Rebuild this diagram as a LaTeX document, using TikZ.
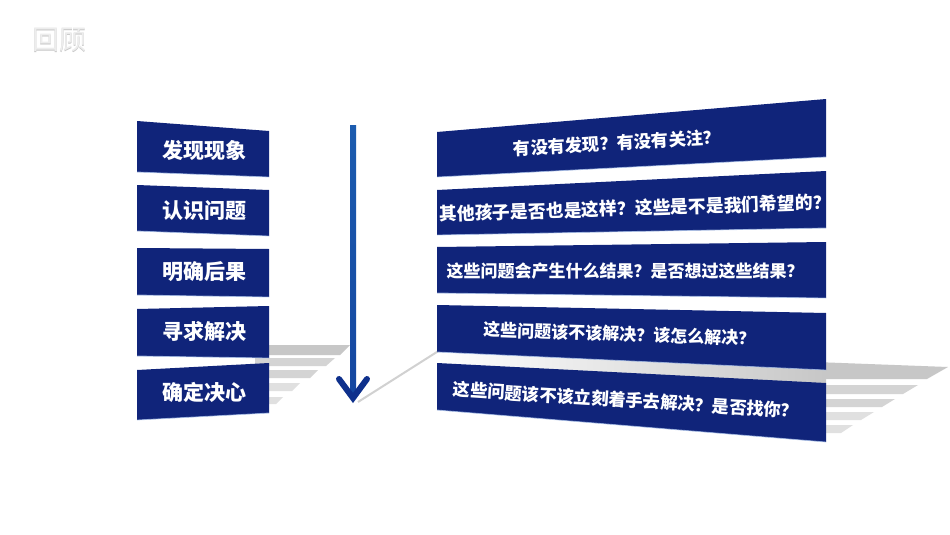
\documentclass[tikz,border=0pt]{standalone}
\usepackage{fontspec}
\newfontfamily\cjk{Noto Sans CJK SC}
\usetikzlibrary{calc}
\definecolor{navy}{RGB}{16,36,122}
\definecolor{shafttop}{RGB}{28,92,175}
\definecolor{shaftbot}{RGB}{20,70,160}
\definecolor{chev}{RGB}{14,48,140}
\definecolor{glow}{RGB}{170,195,235}
\tikzset{
  boxfill/.style={fill=navy},
  boxedge/.style={draw=glow, line width=0.8, opacity=0.7},
  ltext/.style={text=white, inner sep=0, font=\cjk\bfseries\fontsize{21}{21}\selectfont},
  rtext/.style={text=white, inner sep=0, font=\cjk\bfseries\fontsize{#1}{#1}\selectfont},
  rtext/.default=17,
  shadowA/.style={fill=black!22},
  shadowB/.style={fill=black!17},
  shadowC/.style={fill=black!12},
  chevron/.style={draw=chev, line width=6, line cap=round, line join=miter},
}
\begin{document}
\begin{tikzpicture}[x=1pt,y=-1pt]
\useasboundingbox[fill=white] (0,0) rectangle (950,535);

% title
\node[text=gray!45, inner sep=0, font=\cjk\fontsize{27}{27}\selectfont] (titleshadow) at (59.8,40.8) {回顾};
\node[text=gray!14, inner sep=0, font=\cjk\fontsize{27}{27}\selectfont] (title) at (59,40) {回顾};

% left reflection stripes
\fill[shadowA] (255,345) -- (350,345) -- (340,355) -- (255,355) -- cycle;
\fill[shadowB] (255,358) -- (335,358) -- (326,366) -- (255,366) -- cycle;
\fill[shadowB] (255,370) -- (318,370) -- (310,378) -- (255,378) -- cycle;
\fill[shadowC] (255,383) -- (300,383) -- (292,391) -- (255,391) -- cycle;
\fill[shadowC] (255,397) -- (283,397) -- (276,404) -- (255,404) -- cycle;

% right reflection stripes
\fill[shadowA] (815,362) -- (948,367) -- (927,379) -- (815,379) -- cycle;
\fill[shadowB] (815,385) -- (918,385) -- (903,394) -- (815,394) -- cycle;
\fill[shadowB] (815,399) -- (895,399) -- (882,407) -- (815,407) -- cycle;
\fill[shadowC] (815,412) -- (874,412) -- (861,420) -- (815,420) -- cycle;
\fill[shadowC] (815,425) -- (853,425) -- (841,433) -- (815,433) -- cycle;
% band behind the gap between R4 and R5
\shade[left color=white, right color=black!22] (437,350) -- (826,367) -- (826,385) -- (437,364) -- cycle;
% faint diagonal from the arrow tip
\coordinate (diagA) at (358,402);
\coordinate (diagB) at (440,350);
\draw[black!18, line width=2] (diagA) -- (diagB);

% left boxes
\fill[boxfill] (137,121) -- (269,131) -- (269,177) -- (137,172) -- cycle;
\fill[boxfill] (137,185) -- (269,190) -- (269,236) -- (137,231) -- cycle;
\fill[boxfill] (137,248) -- (269,249) -- (269,297) -- (137,295) -- cycle;
\fill[boxfill] (137,309) -- (269,306) -- (269,358) -- (137,356) -- cycle;
\fill[boxfill] (137,370) -- (269,363) -- (269,413) -- (137,420) -- cycle;
\draw[boxedge] (137,172) -- (269,177);
\draw[boxedge] (137,231) -- (269,236);
\draw[boxedge] (137,295) -- (269,297);
\draw[boxedge] (137,356) -- (269,358);
\draw[boxedge] (137,420) -- (269,413);

\node[ltext] (l1) at (204,150) {发现现象};
\node[ltext] (l2) at (204,211) {认识问题};
\node[ltext] (l3) at (204,272) {明确后果};
\node[ltext] (l4) at (204,331) {寻求解决};
\node[ltext] (l5) at (204,392) {确定决心};

% arrow
\coordinate (atop) at (353,125);
\coordinate (abot) at (353,398);
\shade[top color=shafttop, bottom color=shaftbot] ($(atop)+(-3,0)$) rectangle ($(abot)+(3,0)$);
\coordinate (cl) at (339,379);
\coordinate (cr) at (367,379);
\draw[chevron] (cl) -- (abot) -- (cr);

% right boxes
\fill[boxfill] (437,132) -- (826,99) -- (826,157) -- (437,177) -- cycle;
\fill[boxfill] (437,190) -- (826,171) -- (826,228) -- (437,235) -- cycle;
\fill[boxfill] (437,247) -- (826,242) -- (826,298) -- (437,293) -- cycle;
\fill[boxfill] (437,305) -- (826,313) -- (826,370) -- (437,352) -- cycle;
\fill[boxfill] (437,363) -- (826,383) -- (826,442) -- (437,410) -- cycle;
\draw[boxedge] (437,177) -- (826,157);
\draw[boxedge] (437,235) -- (826,228);
\draw[boxedge] (437,293) -- (826,298);
\draw[boxedge] (437,352) -- (826,370);
\draw[boxedge] (437,410) -- (826,442);

\node[rtext=17.3, rotate=3.4] (r1) at (617,143) {有没有发现？有没有关注？};
\node[rtext=17.8, rotate=1.8] (r2) at (635,208) {其他孩子是否也是这样？这些是不是我们希望的？};
\node[rtext=17] (r3) at (625,271) {这些问题会产生什么结果？是否想过这些结果？};
\node[rtext=17, rotate=-1.9] (r4) at (620,334) {这些问题该不该解决？该怎么解决？};
\node[rtext=17.3, rotate=-3.6] (r5) at (626,400) {这些问题该不该立刻着手去解决？是否找你？};
\end{tikzpicture}
\end{document}
